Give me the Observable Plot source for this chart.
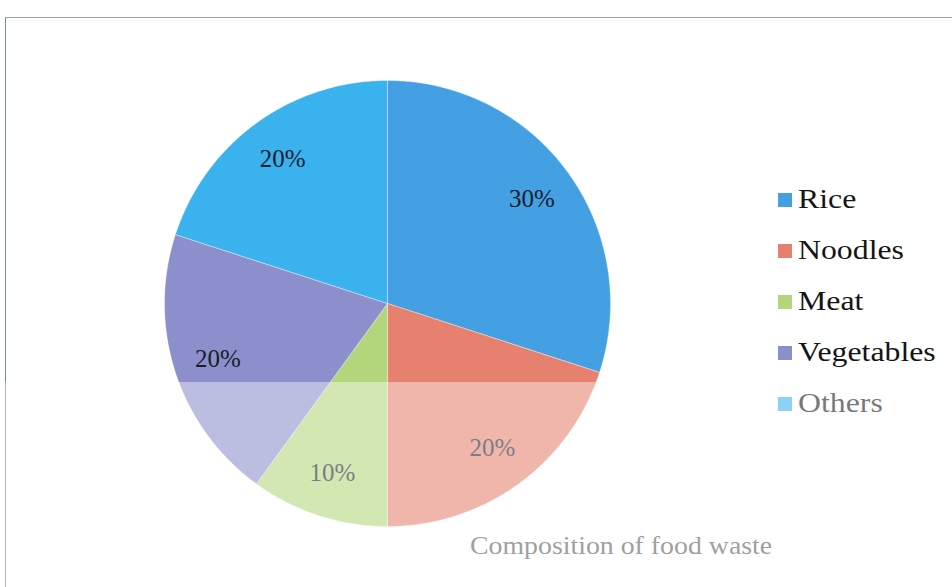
<!DOCTYPE html>
<html>
<head>
<meta charset="utf-8">
<script src="https://cdn.jsdelivr.net/npm/d3@7"></script>
<script src="https://cdn.jsdelivr.net/npm/@observablehq/plot@0.6"></script>
<style>
  html, body { margin: 0; padding: 0; background: #fff; }
  #wrap { position: relative; width: 952px; height: 587px; overflow: hidden; font-family: "Liberation Serif", "DejaVu Serif", serif; }
  #frame { position: absolute; left: 5px; top: 17px; width: 1000px; height: 700px; border-left: 1.5px solid #6f8e97; border-top: 1.5px solid #8fa6ad; }
  #chart { position: absolute; left: 0; top: 0; }
  #chart text { font-family: "Liberation Serif", serif !important; }
  #legend { position: absolute; left: 778px; top: 174px; }
  .item { display: flex; align-items: center; height: 51px; line-height: 51px; font-size: 26.5px; color: #151515; }
  .sw { width: 14px; height: 14px; margin-right: 6px; flex: none; }
  .txt { display: inline-block; transform: scaleX(1.2); transform-origin: left center; }
  #title { position: absolute; left: 470px; top: 533px; font-size: 26px; line-height: 1; color: #5a5a5a; transform: scaleX(1.07); transform-origin: left center; white-space: nowrap; }
  #fade { position: absolute; left: 0; top: 382px; width: 952px; height: 205px; background: rgba(255,255,255,0.42); pointer-events: none; }
</style>
</head>
<body>
<div id="wrap">
  <div id="frame"></div>
  <div id="chart"></div>
  <div id="legend"></div>
  <div id="title">Composition of food waste</div>
  <div id="fade"></div>
</div>
<script>
const categories = ["Rice", "Noodles", "Meat", "Vegetables", "Others"];
const values = [30, 20, 10, 20, 20];
const labels = ["30%", "20%", "10%", "20%", "20%"];
const colors = ["#44a0e2", "#e6806f", "#b3d67c", "#8c8fcb", "#3ab2ee"];

const pie = d3.pie().sort(null).value(d => d)(values);

// polygon points for each slice (center + arc)
const pts = [];
pie.forEach((s, i) => {
  const cat = categories[i];
  pts.push({cat, x: 0, y: 0});
  const n = Math.max(4, Math.ceil((s.endAngle - s.startAngle) / 0.01));
  for (let k = 0; k <= n; k++) {
    const a = s.startAngle + (s.endAngle - s.startAngle) * k / n;
    pts.push({cat, x: Math.sin(a), y: Math.cos(a)});
  }
  pts.push({cat, x: 0, y: 0});
});

const labelR = 0.8;
const labelData = pie.map((s, i) => {
  const a = (s.startAngle + s.endAngle) / 2;
  return {cat: categories[i], label: labels[i], x: labelR * Math.sin(a), y: labelR * Math.cos(a)};
});

const chart = Plot.plot({
  width: 952,
  height: 587,
  margin: 0,
  x: {domain: [-1, 1], range: [164, 610], axis: null},
  y: {domain: [-1, 1], range: [526, 80], axis: null},
  color: {domain: categories, range: colors},
  style: {background: "transparent", overflow: "visible", fontFamily: "'Liberation Serif', serif"},
  marks: [
    Plot.line(pts, {x: "x", y: "y", z: "cat", fill: "cat", stroke: "#ffffff", strokeWidth: 0.8, strokeOpacity: 0.45, curve: "linear"}),
    Plot.text(labelData, {x: "x", y: "y", text: "label", fontSize: 25, fontFamily: "Liberation Serif", fill: "#16202a"})
  ]
});
document.getElementById("chart").appendChild(chart);
d3.select(chart).selectAll("text").style("font-family", "'Liberation Serif', serif");

const legend = document.getElementById("legend");
categories.forEach((c, i) => {
  const row = document.createElement("div");
  row.className = "item";
  const sw = document.createElement("div");
  sw.className = "sw";
  sw.style.background = colors[i];
  const t = document.createElement("span");
  t.className = "txt";
  t.textContent = c;
  row.appendChild(sw);
  row.appendChild(t);
  legend.appendChild(row);
});
</script>
</body>
</html>
